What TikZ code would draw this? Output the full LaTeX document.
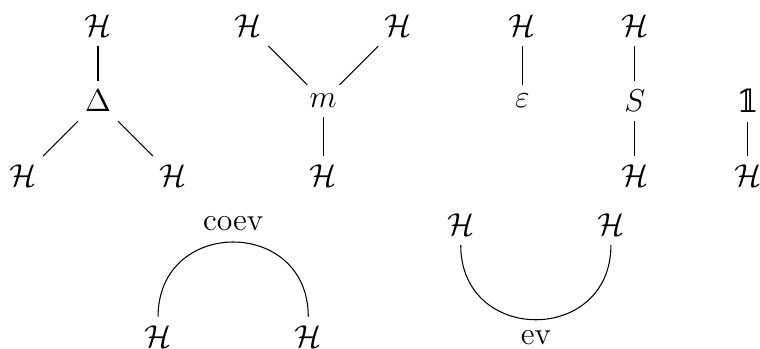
\documentclass[tikz,border=0pt,12pt]{standalone}
\usepackage{amsmath}
\usepackage{amssymb}
\usepackage{fontspec}
\newfontfamily\dsfont{DejaVu Serif}
\usepackage{tikz}

\begin{document}
\begin{tikzpicture}[
  obj/.style={inner sep=3.33pt},
  wire/.style={draw=black, line width=0.4pt},
  cup/.style={wire, looseness=1.7}
]
  \useasboundingbox (-1.305,-3.302) rectangle (8.815,1.345);

  \node[obj] (d)  at (0,0)   {$\Delta$};
  \node[obj] (dt) at (0,1)   {$\mathcal{H}$};
  \node[obj] (dl) at (-1,-1) {$\mathcal{H}$};
  \node[obj] (dr) at (1,-1)  {$\mathcal{H}$};

  \node[obj] (m)  at (3,0)   {$m$};
  \node[obj] (ml) at (2,1)   {$\mathcal{H}$};
  \node[obj] (mr) at (4,1)   {$\mathcal{H}$};
  \node[obj] (mb) at (3,-1)  {$\mathcal{H}$};

  \node[obj] (e)  at (5.65,0) {$\varepsilon$};
  \node[obj] (et) at (5.65,1) {$\mathcal{H}$};

  \node[obj] (s)  at (7.15,0)  {$S$};
  \node[obj] (st) at (7.15,1)  {$\mathcal{H}$};
  \node[obj] (sb) at (7.15,-1) {$\mathcal{H}$};

  \node[obj] (u)  at (8.65,0)  {\dsfont 𝟙};
  \node[obj] (ub) at (8.65,-1) {$\mathcal{H}$};

  \node[obj] (cl) at (0.8,-3.14)  {$\mathcal{H}$};
  \node[obj] (cr) at (2.8,-3.14)  {$\mathcal{H}$};
  \node[obj] (vl) at (4.83,-1.65) {$\mathcal{H}$};
  \node[obj] (vr) at (6.83,-1.65) {$\mathcal{H}$};

  \draw[wire] (dt) -- (d);
  \draw[wire] (d) -- (dl);
  \draw[wire] (d) -- (dr);

  \draw[wire] (ml) -- (m);
  \draw[wire] (mr) -- (m);
  \draw[wire] (m) -- (mb);

  \draw[wire] (et) -- (e);

  \draw[wire] (st) -- (s);
  \draw[wire] (s) -- (sb);

  \draw[wire] (u) -- (ub);

  \draw[cup] (cl.north) to[out=90,in=90] node[midway,above]{coev} (cr.north);
  \draw[cup] (vl.south) to[out=-90,in=-90] node[midway,below]{ev} (vr.south);
\end{tikzpicture}
\end{document}
